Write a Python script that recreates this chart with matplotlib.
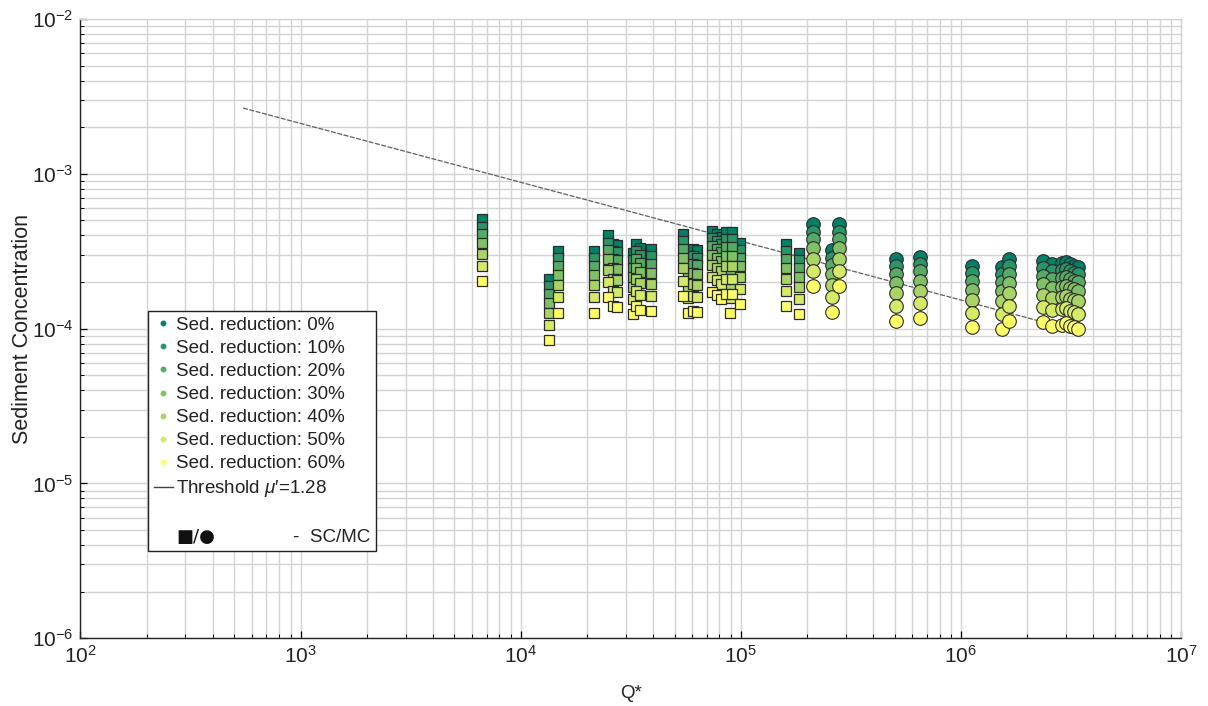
import matplotlib
matplotlib.use("Agg")
import matplotlib.pyplot as plt
from matplotlib.lines import Line2D
from matplotlib.ticker import LogLocator, NullFormatter
import numpy as np

plt.rcParams['font.family'] = ['Liberation Sans', 'DejaVu Sans']
plt.rcParams['mathtext.fontset'] = 'custom'
plt.rcParams['mathtext.rm'] = 'Liberation Sans'
plt.rcParams['mathtext.it'] = 'Liberation Sans:italic'

# ---------------- data ----------------
reductions = [0, 10, 20, 30, 40, 50, 60]

# SC runs (squares)
sc_q = [6.67e3, 1.345e4, 1.476e4, 2.15e4, 2.48e4, 2.63e4, 2.74e4, 3.24e4, 3.34e4, 3.48e4,
        3.91e4, 5.46e4, 5.75e4, 6.06e4, 6.32e4, 7.40e4, 7.80e4, 8.13e4, 8.57e4, 8.93e4,
        9.12e4, 9.91e4, 1.60e5, 1.84e5]
# concentrations in units of 1e-4
sc_r00 = [5.07, 2.10, 3.17, 3.17, 4.00, 3.50, 3.45, 3.10, 3.50, 3.30, 3.25, 4.08, 3.15, 3.25, 3.20, 4.30, 4.10, 3.90, 4.20, 3.15, 4.20, 3.60, 3.50, 3.10]
sc_r10 = [4.56, 1.89, 2.85, 2.85, 3.60, 3.15, 3.11, 2.79, 3.15, 2.97, 2.93, 3.67, 2.84, 2.93, 2.88, 3.87, 3.69, 3.51, 3.78, 2.84, 3.78, 3.24, 3.15, 2.79]
sc_r20 = [4.06, 1.68, 2.54, 2.54, 3.20, 2.80, 2.76, 2.48, 2.80, 2.64, 2.60, 3.26, 2.52, 2.60, 2.56, 3.44, 3.28, 3.12, 3.36, 2.52, 3.36, 2.88, 2.80, 2.48]
sc_r30 = [3.55, 1.47, 2.22, 2.22, 2.80, 2.45, 2.42, 2.17, 2.45, 2.31, 2.28, 2.86, 2.21, 2.28, 2.24, 3.01, 2.87, 2.73, 2.94, 2.21, 2.94, 2.52, 2.45, 2.17]
sc_r40 = [3.04, 1.26, 1.90, 1.90, 2.40, 2.10, 2.07, 1.86, 2.10, 1.98, 1.95, 2.45, 1.89, 1.95, 1.92, 2.58, 2.46, 2.34, 2.52, 1.89, 2.52, 2.16, 2.10, 1.86]
sc_r50 = [2.54, 1.05, 1.59, 1.59, 2.00, 1.75, 1.73, 1.55, 1.75, 1.65, 1.63, 2.04, 1.58, 1.63, 1.60, 2.15, 2.05, 1.95, 2.10, 1.58, 2.10, 1.80, 1.75, 1.55]
sc_r60 = [2.03, 0.84, 1.27, 1.27, 1.60, 1.40, 1.38, 1.24, 1.40, 1.32, 1.30, 1.63, 1.26, 1.30, 1.28, 1.72, 1.64, 1.56, 1.68, 1.26, 1.68, 1.44, 1.40, 1.24]

# MC runs (circles)
mc_q = [2.13e5, 2.60e5, 2.79e5, 5.07e5, 6.52e5, 1.12e6, 1.54e6, 1.66e6, 2.36e6, 2.59e6,
        2.88e6, 3.00e6, 3.13e6, 3.27e6, 3.40e6]
mc_r00 = [4.71, 3.20, 4.71, 2.81, 2.92, 2.54, 2.50, 2.81, 2.75, 2.61, 2.65, 2.70, 2.60, 2.55, 2.50]
mc_r10 = [4.24, 2.88, 4.24, 2.53, 2.63, 2.29, 2.25, 2.53, 2.48, 2.35, 2.39, 2.43, 2.34, 2.30, 2.25]
mc_r20 = [3.77, 2.56, 3.77, 2.25, 2.34, 2.03, 2.00, 2.25, 2.20, 2.09, 2.12, 2.16, 2.08, 2.04, 2.00]
mc_r30 = [3.30, 2.24, 3.30, 1.97, 2.04, 1.78, 1.75, 1.97, 1.93, 1.83, 1.86, 1.89, 1.82, 1.79, 1.75]
mc_r40 = [2.83, 1.92, 2.83, 1.69, 1.75, 1.52, 1.50, 1.69, 1.65, 1.57, 1.59, 1.62, 1.56, 1.53, 1.50]
mc_r50 = [2.36, 1.60, 2.36, 1.41, 1.46, 1.27, 1.25, 1.41, 1.38, 1.31, 1.33, 1.35, 1.30, 1.28, 1.25]
mc_r60 = [1.88, 1.28, 1.88, 1.12, 1.17, 1.02, 1.00, 1.12, 1.10, 1.04, 1.06, 1.08, 1.04, 1.02, 1.00]

# Threshold line (mu' = 1.28)
thr_q = [548, 2.76e6]
thr_c = [2.66e-3, 1.04e-4]

unit = 1e-4
sc_series = [sc_r00, sc_r10, sc_r20, sc_r30, sc_r40, sc_r50, sc_r60]
mc_series = [mc_r00, mc_r10, mc_r20, mc_r30, mc_r40, mc_r50, mc_r60]

# ---------------- figure ----------------
fig = plt.figure(figsize=(12.08, 7.06), dpi=100)
ax = fig.add_axes([0.0666, 0.0959, 0.9111, 0.8772])
ax.set_xscale('log')
ax.set_yscale('log')
ax.set_xlim(1e2, 1e7)
ax.set_ylim(1e-6, 1e-2)

cmap = plt.get_cmap('summer')
colors = [cmap(i / 6) for i in range(7)]
edge = '#2a2a2a'

ax.plot(thr_q, thr_c, color='#606060', lw=0.9, ls=(0, (4, 1.2)), zorder=2)

for i in range(7):
    ax.plot(sc_q, np.array(sc_series[i]) * unit, ls='', marker='s', ms=7.8,
            mfc=colors[i], mec=edge, mew=0.9, zorder=3)
for i in range(7):
    ax.plot(mc_q, np.array(mc_series[i]) * unit, ls='', marker='o', ms=9.8,
            mfc=colors[i], mec=edge, mew=0.8, zorder=3)

# grid and ticks
grid_c = '#d4d4d4'
ax.xaxis.set_major_locator(LogLocator(base=10, numticks=20))
ax.yaxis.set_major_locator(LogLocator(base=10, numticks=20))
ax.xaxis.set_minor_locator(LogLocator(base=10, subs=np.arange(2, 10), numticks=20))
ax.yaxis.set_minor_locator(LogLocator(base=10, subs=np.arange(2, 10), numticks=20))
ax.xaxis.set_minor_formatter(NullFormatter())
ax.yaxis.set_minor_formatter(NullFormatter())
ax.grid(True, which='major', color=grid_c, lw=1.0)
ax.grid(True, which='minor', color=grid_c, lw=1.0)
ax.set_axisbelow(True)
ax.tick_params(which='both', direction='in', top=False, right=False, labelsize=15, colors='black')
ax.tick_params(which='major', length=5, width=0.9, pad=5)
ax.tick_params(which='minor', length=3, width=0.7)
for s in ['left', 'bottom']:
    ax.spines[s].set_color('#222222')
    ax.spines[s].set_linewidth(1.0)
for s in ['top', 'right']:
    ax.spines[s].set_color(grid_c)
    ax.spines[s].set_linewidth(1.0)
for lab in ax.get_xticklabels() + ax.get_yticklabels():
    lab.set_color('#222222')

ax.set_xlabel('Q*', fontsize=13.5, color='#222222')
ax.xaxis.set_label_coords(0.5, -0.075)
ax.set_ylabel('Sediment Concentration', fontsize=15.5, color='#222222')
ax.yaxis.set_label_coords(-0.043, 0.5)

# legend
handles = []
labels = []
for i, r in enumerate(reductions):
    handles.append(Line2D([], [], ls='', marker='o', ms=3.2, mfc=colors[i], mec=colors[i]))
    labels.append(f'Sed. reduction: {r}%')
handles.append(Line2D([], [], color='#444444', lw=1.0))
labels.append(r"Threshold $\mu\prime$=1.28")
handles.append(Line2D([], [], ls='', marker=''))
labels.append(' ')
handles.append(Line2D([], [], ls='', marker=''))
labels.append('\u25A0/\u25CF' + ' ' * 17 + '-  SC/MC')

leg = ax.legend(handles, labels, loc='upper left', bbox_to_anchor=(0.0613, 0.5285),
                fontsize=13.5, frameon=True, fancybox=False, framealpha=1,
                edgecolor='#222222', borderaxespad=0, borderpad=0.3,
                labelspacing=0.32, handlelength=1.05, handletextpad=0.15)
leg.get_frame().set_linewidth(1.0)
for t in leg.get_texts():
    t.set_color('#222222')

# render the SC/MC row with bigger marker glyphs
last = leg.get_texts()[-1]
last.set_alpha(0)
fig.canvas.draw()
bb = last.get_window_extent()
inv = fig.transFigure.inverted()
x0, y0 = inv.transform((bb.x0, (bb.y0 + bb.y1) / 2))
x1, _ = inv.transform((bb.x1, (bb.y0 + bb.y1) / 2))
fig.text(x0, y0, '\u25A0/\u25CF', fontsize=13, family=['DejaVu Sans'],
         color='#111111', ha='left', va='center', zorder=10)
fig.text(x1, y0, '-  SC/MC', fontsize=13.5, color='#222222',
         ha='right', va='center', zorder=10)

fig.savefig('out.png', dpi=100, facecolor='white')
